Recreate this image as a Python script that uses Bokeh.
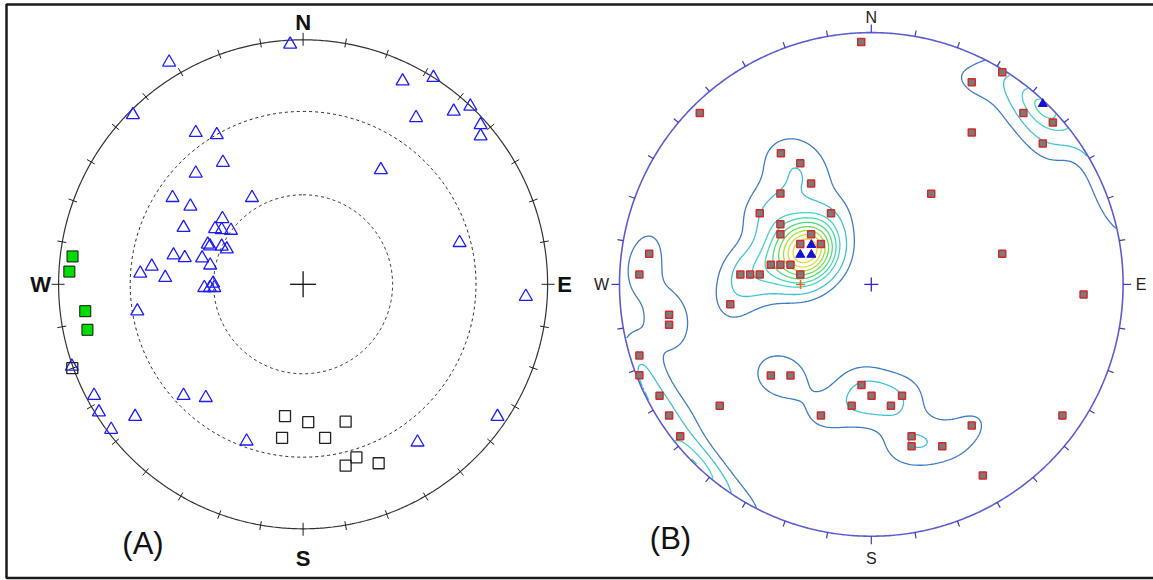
import numpy as np
from bokeh.plotting import figure
from bokeh.models import Range1d
from bokeh.core.properties import value
from bokeh.embed import file_html
from bokeh.resources import INLINE

# ---------------------------------------------------------------------------
# Stereonet (A) - equal-area, lower hemisphere.
# Projected positions on the unit net: east (+) / north (+).
# ---------------------------------------------------------------------------
a_tri_e = [-0.053, -0.548, -0.696, -0.439, -0.353, -0.328, -0.439, -0.534, -0.461, -0.209,
           -0.489, -0.330, -0.360, -0.333, -0.295, -0.390, -0.381, -0.333, -0.312, -0.530,
           -0.484, -0.413, -0.380, -0.619, -0.666, -0.564, -0.404, -0.368, -0.381, -0.363,
           0.407, 0.533, 0.616, 0.684, 0.462, 0.726, 0.726, 0.318, 0.640, 0.911,
           -0.678, -0.946, -0.855, -0.835, -0.785, -0.687, -0.489, -0.398, -0.231, 0.468,
           0.795]
a_tri_n = [0.981, 0.908, 0.693, 0.620, 0.611, 0.498, 0.454, 0.354, 0.319, 0.354,
           0.232, 0.268, 0.227, 0.223, 0.220, 0.163, 0.156, 0.155, 0.144, 0.119,
           0.108, 0.107, 0.078, 0.073, 0.045, 0.027, -0.014, 0.004, -0.014, -0.014,
           0.831, 0.845, 0.707, 0.728, 0.681, 0.652, 0.606, 0.468, 0.170, -0.050,
           -0.110, -0.336, -0.455, -0.523, -0.594, -0.541, -0.455, -0.464, -0.642, -0.646,
           -0.541]
a_green_e = [-0.943, -0.956, -0.891, -0.882]
a_green_n = [0.114, 0.052, -0.110, -0.186]
a_open_e = [-0.944, -0.074, 0.021, 0.174, -0.086, 0.090, 0.218, 0.174, 0.309]
a_open_n = [-0.343, -0.539, -0.564, -0.562, -0.628, -0.628, -0.708, -0.742, -0.732]
a_ring_plunges = [30, 60]          # dashed small circles of equal plunge

# ---------------------------------------------------------------------------
# Stereonet (B) - equal-area, lower hemisphere: poles and density contours.
# ---------------------------------------------------------------------------
b_pole_e = [-0.040, 0.520, 0.399, -0.681, 0.604, 0.721, 0.399, 0.681, -0.359, -0.282,
            -0.239, -0.361, 0.238, -0.443, -0.160, -0.361, -0.361, -0.239, -0.282, -0.200,
            -0.399, -0.361, -0.321, -0.520, -0.481, -0.443, -0.282, 0.520, -0.882, -0.921,
            0.843, -0.560, -0.803, -0.803, -0.921, -0.921, -0.841, -0.803, -0.759, -0.602,
            -0.399, -0.321, -0.039, 0.001, 0.122, -0.078, 0.078, -0.200, 0.399, 0.160,
            0.160, 0.282, 0.443, 0.759]
b_pole_n = [0.963, 0.843, 0.803, 0.681, 0.681, 0.643, 0.603, 0.560, 0.521, 0.481,
            0.401, 0.361, 0.360, 0.283, 0.283, 0.239, 0.199, 0.199, 0.160, 0.160,
            0.078, 0.078, 0.078, 0.039, 0.039, 0.039, 0.039, 0.122, 0.122, 0.039,
            -0.040, -0.079, -0.121, -0.160, -0.282, -0.361, -0.442, -0.521, -0.603, -0.482,
            -0.362, -0.362, -0.400, -0.442, -0.442, -0.482, -0.482, -0.521, -0.560, -0.603,
            -0.643, -0.643, -0.759, -0.521]
b_tri_e = [-0.238, -0.282, -0.238, 0.681]
b_tri_n = [0.157, 0.118, 0.118, 0.717]
b_tri_count = 4                    # poles represented by each triangle symbol
b_max_e = [-0.281]                 # marked density maximum
b_max_n = [0.0]

compass = ["N", "E", "S", "W"]
compass_az = [0, 90, 180, 270]
panel_names = ["(A)", "(B)"]

# density contouring (Fisher kernel, axial data)
kappa = 90.0
levels = [1.02, 2.25, 4.0, 5.3, 6.8, 8.4, 10.0, 11.6, 13.2]
level_colors = ["#3f7cc8", "#40c0d8", "#48d2cc", "#48d8a4", "#50da7c", "#6cdc50",
                "#9ee03e", "#cfe03a", "#f2d23a"]

# ---------------------------------------------------------------------------
# layout
# ---------------------------------------------------------------------------
W, H = 1153, 580
A_CX, A_CY, A_R = 302.6, 296.2, 244.5
B_CX, B_CY, B_R = 870.8, 296.1, 251.8
FONT = value("Liberation Sans")

p = figure(width=W, height=H, x_range=Range1d(0, W), y_range=Range1d(0, H),
           output_backend="svg", toolbar_location=None, min_border=0)
p.axis.visible = False
p.grid.visible = False
p.outline_line_color = None
p.background_fill_color = "white"
p.border_fill_color = "white"

# page frame (left, top and bottom rules)
p.line([1153, 6, 6, 1153], [576, 576, 2.5, 2.5], line_color="#1a1a1a", line_width=2.5)


def net_xy(e, n, cx, cy, r):
    return cx + r * np.asarray(e, float), cy + r * np.asarray(n, float)


def az_xy(az_deg, rad, cx, cy):
    a = np.radians(az_deg)
    return cx + rad * np.sin(a), cy + rad * np.cos(a)


t = np.linspace(0, 360, 721)
tick_az = np.arange(0, 360, 10)

# ---------------------------- net (A) ------------------------------------
x, y = az_xy(t, A_R, A_CX, A_CY)
p.line(x, y, line_color="#333333", line_width=1.2)
for pl in a_ring_plunges:
    rr = np.sqrt(2) * np.sin(np.radians(90 - pl) / 2) * A_R
    x, y = az_xy(t, rr, A_CX, A_CY)
    p.line(x, y, line_color="#222222", line_width=1, line_dash="3 3")

x0s, y0s, x1s, y1s = [], [], [], []
for az in tick_az:
    big = az % 90 == 0
    x0, y0 = az_xy(az, A_R - (6 if big else 4), A_CX, A_CY)
    x1, y1 = az_xy(az, A_R + (7 if big else 5), A_CX, A_CY)
    x0s.append(x0); y0s.append(y0); x1s.append(x1); y1s.append(y1)
p.segment(x0s, y0s, x1s, y1s, line_color="#222222", line_width=1)
p.segment([A_CX - 13, A_CX], [A_CY, A_CY - 13], [A_CX + 13, A_CX], [A_CY, A_CY + 13],
          line_color="#111111", line_width=1.3)

lx, ly = az_xy(np.array(compass_az), A_R + 20, A_CX, A_CY)
ly = ly + np.array([-3, 0, -10, 0])
lx = lx + np.array([0, -3, 0, 2])
p.text(lx, ly, text=compass, text_font=FONT, text_font_size="22px",
       text_font_style="bold", text_align="center", text_baseline="middle", text_color="#111111")

ax, ay = net_xy(a_tri_e, a_tri_n, A_CX, A_CY, A_R)
p.scatter(ax, ay, marker="triangle", size=13, fill_color=None, line_color="#1c1cff", line_width=1.3)
ax, ay = net_xy(a_green_e, a_green_n, A_CX, A_CY, A_R)
p.scatter(ax, ay, marker="square", size=11, fill_color="#00dd00", line_color="#111111", line_width=1)
ax, ay = net_xy(a_open_e, a_open_n, A_CX, A_CY, A_R)
p.scatter(ax, ay, marker="square", size=11, fill_color=None, line_color="#222222", line_width=1.3)


# ---------------------------- net (B) ------------------------------------
def unit_vectors(e, n):
    """Inverse equal-area projection: net position -> downward unit vector."""
    e = np.asarray(e, float)
    n = np.asarray(n, float)
    r = np.hypot(e, n)
    theta = 2 * np.arcsin(np.clip(r / np.sqrt(2), 0, 1))
    safe = np.where(r > 0, r, 1)
    s = np.sin(theta)
    return np.stack([s * e / safe, s * n / safe, -np.cos(theta)], axis=-1)


poles = unit_vectors(b_pole_e + b_tri_e, b_pole_n + b_tri_n)
weights = np.array([1.0] * len(b_pole_e) + [float(b_tri_count)] * len(b_tri_e))

g = np.linspace(-1, 1, 281)
GE, GN = np.meshgrid(g, g)
grid = unit_vectors(GE, GN)
dens = (weights * np.exp(kappa * (np.abs(grid @ poles.T) - 1))).sum(axis=-1)
dens[np.hypot(GE, GN) > 1.0] = np.nan

gx, gy = net_xy(GE, GN, B_CX, B_CY, B_R)
p.contour(gx, gy, dens, levels=levels, line_color=level_colors, line_width=1.3, fill_color=None)

x, y = az_xy(t, B_R, B_CX, B_CY)
p.line(x, y, line_color="#5c5cd0", line_width=1.6)
x0s, y0s, x1s, y1s = [], [], [], []
for az in tick_az:
    big = az % 90 == 0
    x0, y0 = az_xy(az, B_R, B_CX, B_CY)
    x1, y1 = az_xy(az, B_R + (8 if big else 6), B_CX, B_CY)
    x0s.append(x0); y0s.append(y0); x1s.append(x1); y1s.append(y1)
p.segment(x0s, y0s, x1s, y1s, line_color="#3c3cc0", line_width=1.2)
p.segment([B_CX - 7, B_CX], [B_CY, B_CY - 7], [B_CX + 7, B_CX], [B_CY, B_CY + 7],
          line_color="#2a2ad0", line_width=1.3)

lx, ly = az_xy(np.array(compass_az), B_R + 18, B_CX, B_CY)
ly = ly + np.array([-3, 0, -4, 0])
p.text(lx, ly, text=compass, text_font=FONT, text_font_size="16px",
       text_align="center", text_baseline="middle", text_color="#222222")

bx, by = net_xy(b_pole_e, b_pole_n, B_CX, B_CY, B_R)
p.scatter(bx, by, marker="square", size=7, fill_color="#7b7b7b", line_color="#d42a2a", line_width=1.5)
bx, by = net_xy(b_tri_e, b_tri_n, B_CX, B_CY, B_R)
p.scatter(bx, by, marker="triangle", size=9, fill_color="#1414d0", line_color="#1414d0", line_width=1)
bx, by = net_xy(b_max_e, b_max_n, B_CX, B_CY, B_R)
p.scatter(bx, by, marker="cross", size=9, line_color="#e07020", line_width=1.5)

# panel captions
p.text([142.5, 670], [37, 42], text=panel_names, text_font=FONT, text_font_size="31px",
       text_align="center", text_baseline="middle", text_color="#111111")

open("out.html", "w").write(file_html(p, INLINE))
